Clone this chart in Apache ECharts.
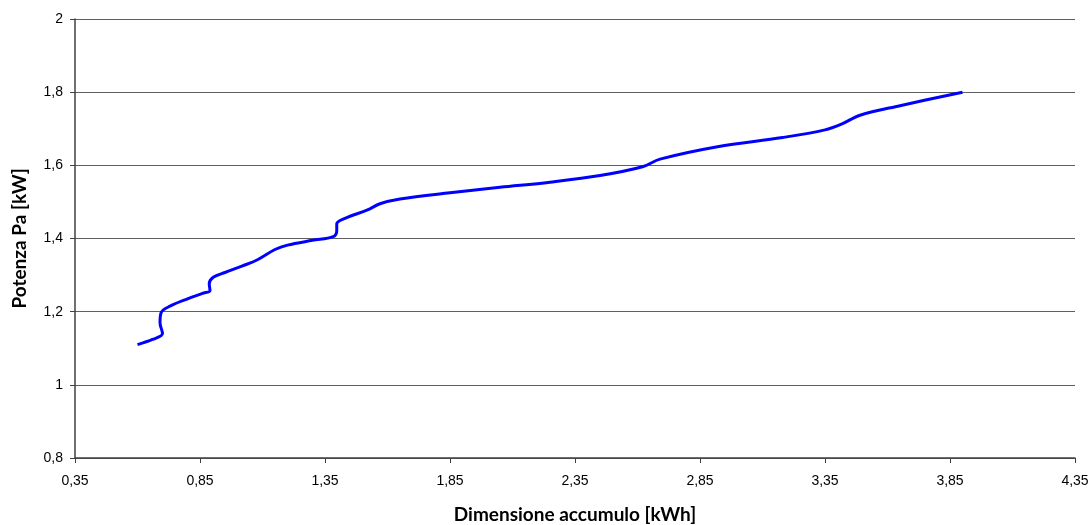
<!DOCTYPE html>
<html>
<head>
<meta charset="UTF-8"/>
<title>Potenza vs accumulo</title>
<script src="https://cdn.jsdelivr.net/npm/echarts@6/dist/echarts.min.js"></script>
</head>
<body style="margin:0;">
<div id="chart" style="width:1092px;height:525px;"></div>
<script>
// valori
var accumulo = [0.60, 0.66, 0.70, 0.69, 0.695, 0.73, 0.80, 0.86, 0.89, 0.887, 0.903, 0.95, 1.02, 1.08, 1.15, 1.20, 1.30, 1.383, 1.397, 1.397, 1.43, 1.52, 1.57, 1.65, 1.85, 2.05, 2.25, 2.45, 2.62, 2.69, 2.92, 3.18, 3.35, 3.42, 3.49, 3.65, 3.90];
var potenza  = [1.11, 1.124, 1.14, 1.17, 1.198, 1.215, 1.235, 1.25, 1.258, 1.276, 1.294, 1.307, 1.325, 1.342, 1.37, 1.382, 1.395, 1.405, 1.422, 1.44, 1.455, 1.478, 1.495, 1.508, 1.525, 1.54, 1.554, 1.572, 1.596, 1.617, 1.651, 1.676, 1.697, 1.714, 1.737, 1.763, 1.80];
var xTicks = [0.35, 0.85, 1.35, 1.85, 2.35, 2.85, 3.35, 3.85, 4.35];

var pts = accumulo.map(function(x, i){ return [x, potenza[i]]; });

var myChart = echarts.init(document.getElementById('chart'));
var option = {
    animation: false,
    grid: { left: 75, right: 17, top: 19, bottom: 67, outerBoundsMode: 'none' },
    xAxis: {
        type: 'value',
        min: 0.35, max: 4.35,
        name: 'Dimensione accumulo [kWh]',
        nameLocation: 'middle',
        nameGap: 47,
        nameTextStyle: { fontFamily: 'Lato', fontWeight: 'bold', fontSize: 19, color: '#000' },
        axisLine: { lineStyle: { color: '#404040', width: 1.5 } },
        axisTick: { show: true, length: 5, customValues: xTicks, lineStyle: { color: '#404040' } },
        axisLabel: {
            customValues: xTicks, margin: 16,
            fontFamily: 'Liberation Sans', fontSize: 14, color: '#000',
            formatter: function(v){ return v.toFixed(2).replace('.', ','); }
        },
        splitLine: { show: false }
    },
    yAxis: {
        type: 'value',
        min: 0.8, max: 2, interval: 0.2,
        name: 'Potenza Pa [kW]',
        nameLocation: 'middle',
        nameGap: 46,
        nameTextStyle: { fontFamily: 'Lato', fontWeight: 'bold', fontSize: 19, color: '#000' },
        axisLine: { show: true, lineStyle: { color: '#404040', width: 1.5 } },
        axisTick: { show: true, length: 5, lineStyle: { color: '#404040' } },
        axisLabel: {
            margin: 12, fontFamily: 'Liberation Sans', fontSize: 14, color: '#000',
            formatter: function(v){ return String(+v.toFixed(1)).replace('.', ','); }
        },
        splitLine: { show: true, lineStyle: { color: '#606060', width: 1 } }
    },
    series: [{
        type: 'line',
        data: pts,
        smooth: 0.35,
        showSymbol: false,
        lineStyle: { color: '#0000ff', width: 3 }
    }]
};
myChart.setOption(option);
</script>
</body>
</html>
